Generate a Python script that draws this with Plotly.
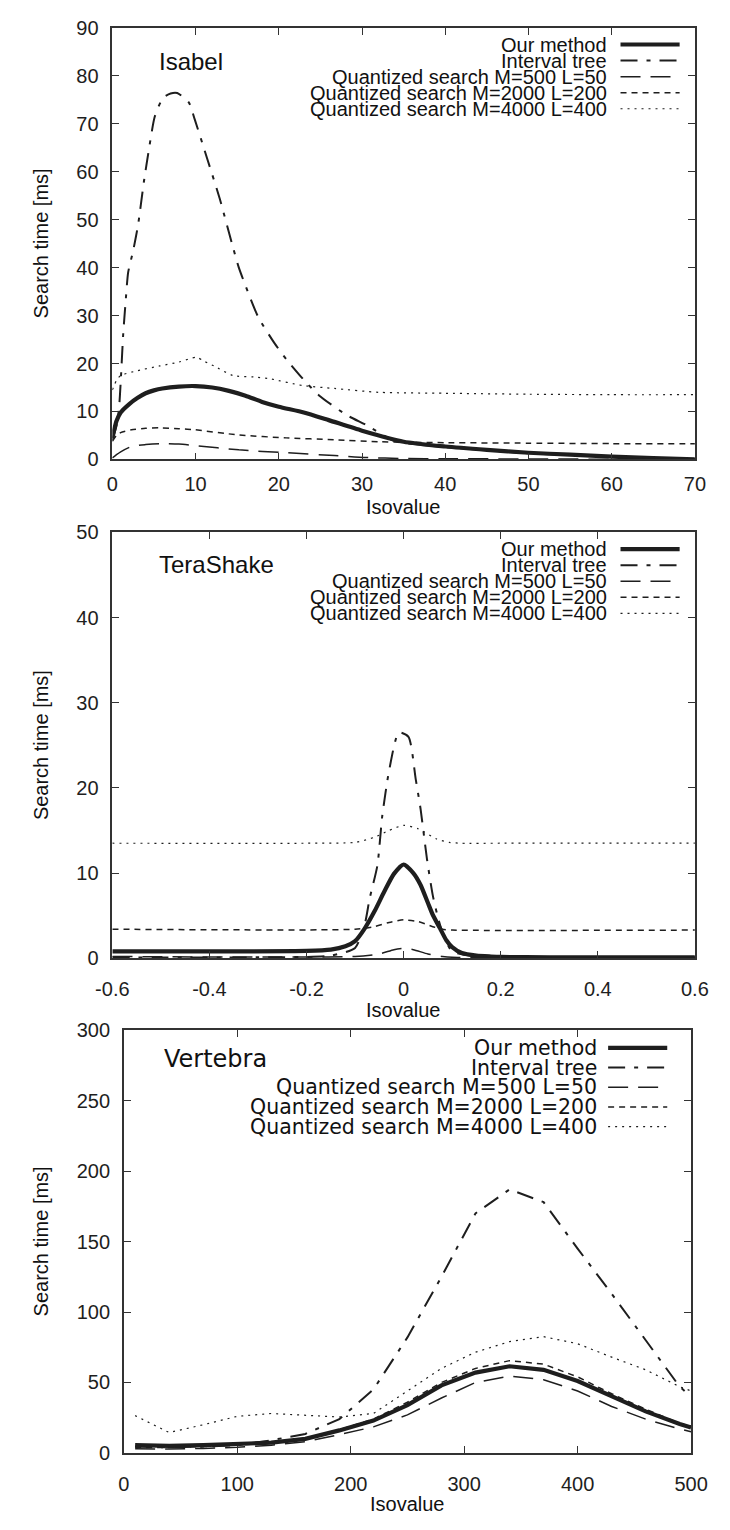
import plotly.graph_objects as go

W, H = 730, 1530

# ---------------- data ----------------
series_names = ["Our method", "Interval tree", "Quantized search M=500 L=50",
                "Quantized search M=2000 L=200", "Quantized search M=4000 L=400"]

# Panel 1: Isabel
isa_our_x = [0, 0.5, 1, 2, 3, 4, 5, 6, 8, 10, 12, 14, 16, 18, 20, 23, 26, 30, 35, 40, 45, 50, 55, 60, 65, 70]
isa_our_y = [4.5, 8, 9.8, 11.5, 12.8, 13.8, 14.4, 14.8, 15.2, 15.3, 15, 14.3, 13.3, 12, 11, 9.8, 8.2, 6, 3.7, 2.7, 2.0, 1.4, 1.0, 0.6, 0.3, 0.0]
isa_it_x = [0, 0.5, 0.8, 1.0, 1.3, 1.6, 1.9, 2.5, 3.1, 3.8, 4.4, 5.1, 6.1, 7, 7.8, 9.2, 9.9, 11.4, 12.9, 14.5, 15.2, 17.5, 19.5, 20.9, 22.9, 24.8, 28.2, 30.5, 34, 40, 45, 50, 55, 60, 65, 70]
isa_it_y = [4, 7, 10.6, 16, 26, 33, 39, 43.5, 49, 58, 64.7, 71.5, 75.4, 76.3, 76.4, 74.4, 70.9, 62.7, 54.4, 44.2, 40, 29.8, 24.2, 20.9, 16.8, 13.4, 9.2, 7.2, 3.8, 2.6, 1.9, 1.3, 0.9, 0.6, 0.3, 0.1]
isa_q500_x = [0, 0.5, 1, 2.3, 4, 5.7, 8, 9.9, 15.2, 20.9, 26.7, 30.5, 35, 40, 50, 60, 70]
isa_q500_y = [0.3, 1.0, 1.6, 2.7, 3.1, 3.3, 3.2, 2.9, 2.0, 1.4, 0.8, 0.4, 0.2, 0.15, 0.1, 0.05, 0.0]
isa_q2000_x = [0, 0.5, 1, 2.3, 4, 5.7, 8, 9.9, 15.2, 20.9, 26.7, 32, 40, 50, 60, 70]
isa_q2000_y = [3.8, 5, 5.6, 6.2, 6.5, 6.6, 6.4, 6.2, 5.1, 4.5, 4.1, 3.7, 3.5, 3.4, 3.3, 3.3]
isa_q4000_x = [0, 0.5, 1, 3, 5.7, 8, 10.1, 11, 12.2, 14.5, 17, 19, 22.9, 26.7, 32, 40, 50, 60, 70]
isa_q4000_y = [14.5, 16.5, 17.5, 18.5, 19.5, 20.3, 21.3, 20.5, 19.5, 17.5, 17.2, 16.8, 15.4, 14.8, 14.0, 13.8, 13.6, 13.5, 13.5]

# Panel 2: TeraShake
ter_our_x = [-0.6, -0.4, -0.2, -0.15, -0.12, -0.1, -0.08, -0.06, -0.04, -0.02, 0, 0.02, 0.035, 0.05, 0.06, 0.075, 0.088, 0.1, 0.12, 0.15, 0.18, 0.2, 0.3, 0.4, 0.5, 0.6]
ter_our_y = [0.8, 0.8, 0.85, 1.0, 1.4, 2.0, 3.5, 5.5, 7.8, 9.9, 11.0, 10.0, 8.6, 6.5, 5.1, 3.5, 2.1, 1.3, 0.6, 0.3, 0.2, 0.15, 0.1, 0.1, 0.1, 0.1]
ter_it_x = [-0.6, -0.3, -0.15, -0.1, -0.08, -0.07, -0.054, -0.044, -0.03, -0.01, 0.01, 0.025, 0.035, 0.048, 0.06, 0.072, 0.084, 0.1, 0.15, 0.3, 0.6]
ter_it_y = [0.1, 0.1, 0.3, 1.2, 4, 7, 10.9, 16.7, 22, 26.5, 26, 21, 17.5, 11.7, 7.4, 4.5, 2.4, 0.8, 0.2, 0.1, 0.1]
ter_q500_x = [-0.6, -0.1, -0.05, -0.02, 0, 0.02, 0.05, 0.08, 0.1, 0.6]
ter_q500_y = [0.2, 0.2, 0.5, 1.0, 1.15, 1.0, 0.5, 0.2, 0.1, 0.1]
ter_q2000_x = [-0.6, -0.1, -0.06, -0.03, 0, 0.03, 0.06, 0.08, 0.1, 0.6]
ter_q2000_y = [3.4, 3.4, 3.7, 4.2, 4.5, 4.3, 3.7, 3.4, 3.3, 3.3]
ter_q4000_x = [-0.6, -0.2, -0.1, -0.06, -0.03, 0, 0.03, 0.068, 0.094, 0.12, 0.2, 0.6]
ter_q4000_y = [13.5, 13.5, 13.6, 14.2, 15.0, 15.6, 15.2, 14.0, 13.6, 13.5, 13.5, 13.5]

# Panel 3: Vertebra
ver_x = [10, 40, 70, 100, 130, 160, 190, 220, 250, 280, 310, 340, 370, 400, 430, 460, 490, 500]
ver_our_y = [5.6, 5.0, 5.5, 6.3, 7.3, 10, 16, 23, 34, 48, 57, 61.5, 59, 51, 40, 29.5, 20.5, 18]
ver_it_y = [4.5, 4, 4.5, 5.5, 9, 13.5, 24, 45, 82, 125, 170, 187, 178, 145, 113, 80, 47, 40]
ver_q500_y = [3, 2.8, 3.2, 4, 5.5, 8, 13, 18.5, 27, 39, 50, 54.5, 52, 44, 33, 24, 17, 15]
ver_q2000_y = [4, 3.8, 4.5, 5.5, 7, 10, 16.5, 24, 36, 50, 60, 65.5, 63, 54, 42, 31, 21, 19]
ver_q4000_y = [26.5, 14.5, 20, 26, 28, 27, 25.5, 28, 44, 60, 71.5, 79, 82.5, 77.5, 68, 59, 47, 44]

# ticks
isa_xticks = [0, 10, 20, 30, 40, 50, 60, 70]
isa_yticks = [0, 10, 20, 30, 40, 50, 60, 70, 80, 90]
ter_xticks = [-0.6, -0.4, -0.2, 0, 0.2, 0.4, 0.6]
ter_xtext = ["-0.6", "-0.4", "-0.2", "0", "0.2", "0.4", "0.6"]
ter_yticks = [0, 10, 20, 30, 40, 50]
ver_xticks = [0, 100, 200, 300, 400, 500]
ver_yticks = [0, 50, 100, 150, 200, 250, 300]

# ---------------- styling ----------------
INK = "#1e1e1e"
AXC = "#333333"
SANS = "Liberation Sans, Arial, sans-serif"
DEJA = "DejaVu Sans, Verdana, sans-serif"

line_styles = [
    dict(width=4.2, dash="solid"),
    dict(width=2.0, dash="17px,9px,4px,9px"),
    dict(width=1.5, dash="20px,10px"),
    dict(width=1.5, dash="6px,5px"),
    dict(width=1.2, dash="2px,5px"),
]


def px(xp):
    return xp / W


def py(yp):
    return 1 - yp / H


panels = [
    dict(title="Isabel", tfont=SANS, lfont=SANS, lsize=20, lstep=16.3,
         xdom=(100, 711), ydom=(17, 455), xr=[0, 70], yr=[0, 90],
         xt=isa_xticks, xtt=[str(v) for v in isa_xticks], yt=isa_yticks,
         series=[(isa_our_x, isa_our_y), (isa_it_x, isa_it_y), (isa_q500_x, isa_q500_y),
                 (isa_q2000_x, isa_q2000_y), (isa_q4000_x, isa_q4000_y)],
         title_pos=(147, 51), leg_text_right=621, leg_line=(633, 695), leg_y0=34,
         xlab_y=503, xtick_stand=6, shape="spline"),
    dict(title="TeraShake", tfont=SANS, lfont=SANS, lsize=20, lstep=16.3,
         xdom=(100, 711), ydom=(529, 961), xr=[-0.6, 0.6], yr=[0, 50],
         xt=ter_xticks, xtt=ter_xtext, yt=ter_yticks,
         series=[(ter_our_x, ter_our_y), (ter_it_x, ter_it_y), (ter_q500_x, ter_q500_y),
                 (ter_q2000_x, ter_q2000_y), (ter_q4000_x, ter_q4000_y)],
         title_pos=(147, 562), leg_text_right=621, leg_line=(633, 695), leg_y0=546,
         xlab_y=1014, xtick_stand=12, shape="spline"),
    dict(title="Vertebra", tfont=DEJA, lfont=DEJA, lsize=20.5, lstep=20,
         xdom=(112, 707), ydom=(1034, 1463), xr=[0, 500], yr=[0, 300],
         xt=ver_xticks, xtt=[str(v) for v in ver_xticks], yt=ver_yticks,
         series=[(ver_x, ver_our_y), (ver_x, ver_it_y), (ver_x, ver_q500_y),
                 (ver_x, ver_q2000_y), (ver_x, ver_q4000_y)],
         title_pos=(152, 1063), leg_text_right=610, leg_line=(620, 682), leg_y0=1052,
         xlab_y=1515, xtick_stand=12, shape="linear"),
]

fig = go.Figure()
annotations = []
shapes = []
layout_axes = {}

for i, p in enumerate(panels):
    k = "" if i == 0 else str(i + 1)
    xa, ya = "x" + k, "y" + k
    for (sx, sy), st, nm in zip(p["series"], line_styles, series_names):
        fig.add_trace(go.Scatter(
            x=sx, y=sy, mode="lines", name=nm, showlegend=False,
            xaxis=xa, yaxis=ya,
            line=dict(color=INK, width=st["width"], dash=st["dash"],
                      shape=p["shape"], smoothing=0.6 if p["shape"] == "spline" else None),
        ))
    common = dict(showline=True, linecolor=AXC, linewidth=1.5, mirror="ticks",
                  ticks="inside", ticklen=7, tickwidth=1.2, tickcolor=AXC,
                  showgrid=False, zeroline=False,
                  tickfont=dict(family=SANS, size=20, color=INK))
    layout_axes["xaxis" + k] = dict(common, domain=[px(p["xdom"][0]), px(p["xdom"][1])],
                                    range=p["xr"], anchor=ya, tickmode="array",
                                    tickvals=p["xt"], ticktext=p["xtt"],
                                    ticklabelstandoff=p["xtick_stand"])
    layout_axes["yaxis" + k] = dict(common, domain=[py(p["ydom"][1]), py(p["ydom"][0])],
                                    range=p["yr"], anchor=xa, tickmode="array",
                                    tickvals=p["yt"], ticklabelstandoff=8)
    # panel title
    annotations.append(dict(text=p["title"], x=px(p["title_pos"][0]), y=py(p["title_pos"][1]),
                            xref="paper", yref="paper", xanchor="left", yanchor="middle",
                            showarrow=False, font=dict(family=p["tfont"], size=24, color="#111")))
    # axis titles
    annotations.append(dict(text="Isovalue", x=px((p["xdom"][0] + p["xdom"][1]) / 2),
                            y=py(p["xlab_y"]), xref="paper", yref="paper",
                            xanchor="center", yanchor="middle", showarrow=False,
                            font=dict(family=SANS, size=20, color="#111")))
    annotations.append(dict(text="Search time [ms]", x=px(25),
                            y=py((p["ydom"][0] + p["ydom"][1]) / 2), xref="paper", yref="paper",
                            xanchor="center", yanchor="middle", textangle=-90, showarrow=False,
                            font=dict(family=SANS, size=20, color="#111")))
    # legend (gnuplot style: text right-aligned, sample to the right)
    for j, (nm, st) in enumerate(zip(series_names, line_styles)):
        yy = p["leg_y0"] + j * p["lstep"]
        annotations.append(dict(text=nm, x=px(p["leg_text_right"]), y=py(yy),
                                xref="paper", yref="paper", xanchor="right", yanchor="middle",
                                showarrow=False,
                                font=dict(family=p["lfont"], size=p["lsize"], color="#111")))
        shapes.append(dict(type="line", xref="paper", yref="paper",
                           x0=px(p["leg_line"][0]), x1=px(p["leg_line"][1]),
                           y0=py(yy), y1=py(yy),
                           line=dict(color=INK, width=st["width"], dash=st["dash"])))

fig.update_layout(
    width=W, height=H, margin=dict(l=0, r=0, t=0, b=0),
    paper_bgcolor="white", plot_bgcolor="white",
    showlegend=False, annotations=annotations, shapes=shapes,
    **layout_axes,
)

fig.write_html("out.html", config={"displayModeBar": False})
